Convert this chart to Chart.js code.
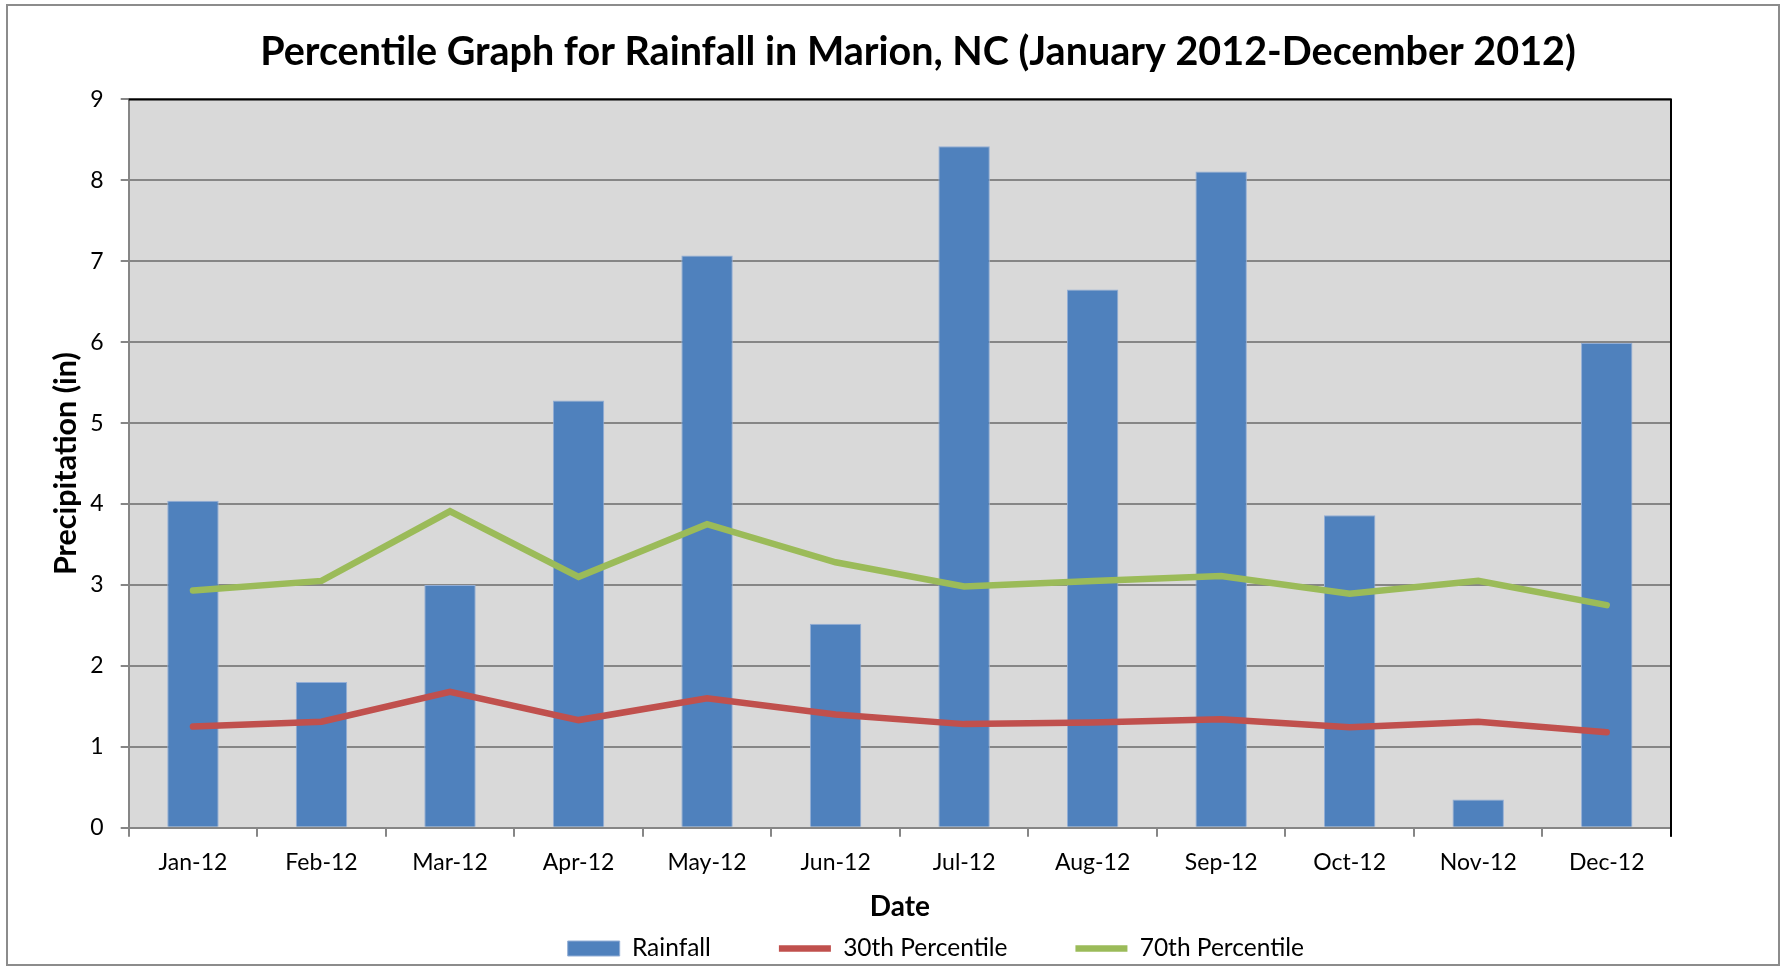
<!DOCTYPE html>
<html>
<head>
<meta charset="utf-8">
<script src="https://cdn.jsdelivr.net/npm/chart.js@4.4.1/dist/chart.umd.min.js"></script>
<style>
html,body{margin:0;padding:0;background:#fff;overflow:hidden}
canvas{display:block}
</style>
</head>
<body>
<canvas id="c" width="1786" height="966"></canvas>
<script>
// ---- data ----
const categories = ['Jan-12','Feb-12','Mar-12','Apr-12','May-12','Jun-12','Jul-12','Aug-12','Sep-12','Oct-12','Nov-12','Dec-12'];
const rainfall = [4.04, 1.80, 3.00, 5.28, 7.07, 2.52, 8.42, 6.65, 8.11, 3.86, 0.35, 5.99];
const pct30 = [1.25, 1.31, 1.68, 1.33, 1.60, 1.40, 1.28, 1.30, 1.34, 1.24, 1.31, 1.18];
const pct70 = [2.93, 3.05, 3.91, 3.10, 3.75, 3.28, 2.98, 3.05, 3.11, 2.89, 3.05, 2.75];
const yMin = 0, yMax = 9, yStep = 1;
const seriesNames = ['Rainfall', '30th Percentile', '70th Percentile'];
const titleText = 'Percentile Graph for Rainfall in Marion, NC (January 2012-December 2012)';
const yTitle = 'Precipitation (in)';
const xTitle = 'Date';

// ---- layout constants ----
const FONT = 'Lato';
const PLOT_LEFT = 128.7, PLOT_RIGHT = 1671;
const TITLE_CX = 918;
const LEGEND_X0 = 567.7, LEGEND_CY = 948.5;
const LEGEND_FS = 24.5;

const bgPlugin = {
  id: 'bgPlugin',
  beforeDraw(chart) {
    const {ctx, chartArea: a} = chart;
    ctx.save();
    ctx.fillStyle = '#D9D9D9';
    ctx.fillRect(a.left, a.top, a.right - a.left, a.bottom - a.top);
    ctx.restore();
  },
  afterDatasetsDraw(chart) {
    const {ctx, chartArea: a} = chart;
    ctx.save();
    ctx.strokeStyle = '#000';
    ctx.lineWidth = 2;
    ctx.beginPath();
    ctx.moveTo(a.left, a.top);
    ctx.lineTo(a.right, a.top);
    ctx.lineTo(a.right, a.bottom + 9);
    ctx.stroke();
    ctx.restore();
  },
  afterDraw(chart) {
    const {ctx} = chart;
    ctx.save();
    ctx.strokeStyle = '#8c8c8c';
    ctx.lineWidth = 2;
    ctx.strokeRect(7, 5, 1772, 960);
    ctx.restore();
  },
  afterLayout(chart) {
    const t = chart.titleBlock;
    if (t) {
      const dx = TITLE_CX - (t.left + t.right) / 2;
      t.left += dx; t.right += dx;
    }
    const l = chart.legend;
    if (l && l.lineWidths) {
      const pad = l.options.labels.padding;
      const natural = (l.left + pad + l.right - l.lineWidths[0]) / 2;
      const dx = LEGEND_X0 - natural;
      l.left += dx; l.right += dx;
      const itemH = Math.max(LEGEND_FS, 15);
      l.top = LEGEND_CY - itemH / 2 - pad;
      l.bottom = l.top + pad + itemH + 12;
      l.height = l.bottom - l.top;
      l.width = l.right - l.left;
    }
  }
};

new Chart(document.getElementById('c'), {
  type: 'bar',
  data: {
    labels: categories,
    datasets: [
      {
        label: seriesNames[0],
        data: rainfall,
        backgroundColor: '#4F81BD',
        borderColor: '#93aed6',
        borderWidth: 1,
        barPercentage: 0.4,
        categoryPercentage: 1.0,
        pointStyle: 'rect',
        order: 2
      },
      {
        type: 'line',
        label: seriesNames[1],
        data: pct30,
        borderColor: '#C0504D',
        backgroundColor: '#C0504D',
        borderWidth: 6.5,
        borderCapStyle: 'round',
        tension: 0,
        pointRadius: 0,
        pointHoverRadius: 0,
        pointStyle: 'line',
        order: 1
      },
      {
        type: 'line',
        label: seriesNames[2],
        data: pct70,
        borderColor: '#9BBB59',
        backgroundColor: '#9BBB59',
        borderWidth: 6.5,
        borderCapStyle: 'round',
        tension: 0,
        pointRadius: 0,
        pointHoverRadius: 0,
        pointStyle: 'line',
        order: 0
      }
    ]
  },
  options: {
    responsive: false,
    animation: false,
    devicePixelRatio: 1,
    layout: { padding: { left: 0, right: 1786 - PLOT_RIGHT, top: 0, bottom: 0 } },
    plugins: {
      tooltip: { enabled: false },
      title: {
        display: true,
        text: titleText,
        color: '#000',
        font: { family: FONT, size: 39.5, weight: 'bold' },
        padding: { top: 28.5, bottom: 23.5 }
      },
      legend: {
        position: 'bottom',
        maxHeight: 40,
        labels: {
          usePointStyle: true,
          pointStyleWidth: 52,
          boxHeight: 15,
          padding: 68,
          color: '#000',
          font: { family: FONT, size: LEGEND_FS },
          sort: (a, b) => a.datasetIndex - b.datasetIndex
        }
      }
    },
    scales: {
      x: {
        offset: true,
        grid: {
          offset: true,
          drawOnChartArea: false,
          drawTicks: true,
          tickLength: 9,
          color: '#868686',
          lineWidth: 2
        },
        border: { color: '#868686', width: 2 },
        ticks: { color: '#000', font: { family: FONT, size: 23 }, padding: 12.5, maxRotation: 0, autoSkip: false },
        title: {
          display: true, text: xTitle, color: '#000',
          font: { family: FONT, size: 28, weight: 'bold' },
          padding: { top: 0, bottom: 2 }
        },
        afterFit(scale) { scale.height = 98.3; }
      },
      y: {
        min: yMin, max: yMax,
        grid: { color: '#868686', lineWidth: 2, tickLength: 8, drawTicks: true },
        border: { color: '#868686', width: 2 },
        ticks: { stepSize: yStep, color: '#000', font: { family: FONT, size: 23 }, padding: 17 },
        title: {
          display: true, text: yTitle, color: '#000',
          font: { family: FONT, size: 30.5, weight: 'bold' },
          padding: { top: 48, bottom: 0 }
        },
        afterFit(scale) { scale.width = PLOT_LEFT; }
      }
    }
  },
  plugins: [bgPlugin]
});
</script>
</body>
</html>
